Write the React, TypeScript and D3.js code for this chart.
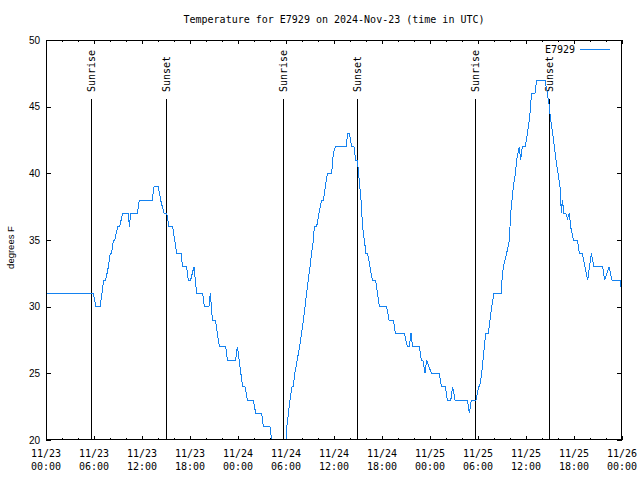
import React from "react";
import * as d3 from "d3";

// ---- data (hours since 2024-11-23 00:00 UTC, temperature in °F) ----
const hours = [
  0, 5.92, 6.25, 6.75, 7.0, 7.2, 7.46, 7.8, 8.04, 8.2, 8.42, 8.6, 8.96, 9.2, 9.58, 10.29, 10.42, 10.58,
  11.42, 11.67, 13.29, 13.5, 14.04, 14.33, 14.75, 15.08, 15.375, 15.83, 16.08, 16.33, 16.875, 17.08,
  17.58, 17.79, 18.08, 18.5, 18.83, 19.58, 19.79, 20.375, 20.54, 20.8, 21.17, 21.42, 21.67, 22.46,
  22.67, 23.71, 23.92, 24.04, 24.29, 24.58, 24.875, 25.17, 25.92, 26.21, 26.96, 27.17, 28.0, 28.2,
  28.4, 29.8, 30.0, 30.1, 30.3, 30.5, 30.75, 30.9, 31.1, 31.4, 31.7, 31.95, 32.17, 32.375, 32.58,
  32.79, 33.0, 33.2, 33.42, 33.54, 33.83, 34.125, 34.46, 34.67, 34.92, 35.17, 35.71, 35.83, 36.0,
  36.17, 37.5, 37.71, 37.92, 38.21, 38.5, 38.71, 38.92, 39.08, 39.375, 39.58, 40.0, 40.2, 40.79,
  41.2, 41.67, 42.58, 42.875, 43.42, 43.67, 44.79, 45.17, 45.4, 45.625, 45.83, 46.67, 46.92, 47.1,
  47.375, 47.58, 48.17, 49.17, 49.42, 49.92, 50.17, 50.6, 50.83, 51.125, 52.67, 52.92, 53.17, 53.75,
  54.08, 54.2, 54.46, 54.96, 55.29, 55.71, 56.0, 56.92, 57.0, 57.17, 57.58, 57.92, 58.08, 58.42,
  58.67, 58.83, 59.17, 59.33, 59.54, 59.92, 60.17, 60.42, 60.58, 60.67, 61.125, 61.33, 62.375,
  62.67, 62.92, 63.08, 63.33, 63.54, 63.75, 64.0, 64.25, 64.42, 64.54, 64.75, 64.96, 65.2, 65.42,
  65.58, 65.92, 66.42, 66.67, 67.04, 67.71, 68.17, 68.5, 69.58, 69.83, 70.375, 70.75, 71.75, 72.0,
];
const tempF = [
  31, 31, 30, 30, 31, 32, 32, 33, 34, 34, 35, 35, 36, 36, 37, 37, 36, 37,
  37, 38, 38, 39, 39, 38, 37, 37, 36, 36, 35, 34, 34, 33,
  33, 32, 32, 33, 31, 31, 30, 30, 31, 29, 29, 28, 27, 27,
  26, 26, 27, 26.5, 25.3, 24, 24, 23, 23, 22, 22, 21, 21, 20,
  19, 19, 20, 21, 22, 23, 24, 24, 25, 26, 27, 28, 29, 30, 31,
  32, 33, 34, 35, 36, 36, 37, 38, 38, 39, 40, 40, 41, 41.7,
  42, 42, 43, 43, 42, 42, 41, 41, 40, 38, 36, 34, 34, 32,
  32, 30, 30, 29, 29, 28, 28, 27, 27, 28, 27, 27, 26, 26,
  25, 26, 25, 25, 24, 24, 23, 23, 24, 23, 23, 22, 23, 23,
  24, 24, 25, 28, 28, 30, 31, 31, 32, 33, 34, 35, 37, 39,
  40, 41, 42, 41, 42, 42, 43, 44, 45, 46, 46, 47, 47,
  46, 45, 44, 43, 42, 41, 40, 39, 37, 38, 37, 37, 36.6, 37,
  36, 35, 35, 34, 34, 32, 34, 33, 33, 32, 33, 32, 32, 31,
];

const sunHours = [5.67, 15.04, 29.67, 38.9, 53.67, 62.92];
const sunLabels = ["Sunrise", "Sunset", "Sunrise", "Sunset", "Sunrise", "Sunset"];

const xMajorHours = d3.range(0, 73, 6);
const xMinorHours = d3.range(0, 73, 2).filter((h) => h % 6 !== 0);
const yTicks = [20, 25, 30, 35, 40, 45, 50];

const titleText = "Temperature for E7929 on 2024-Nov-23 (time in UTC)";
const yLabelText = "degrees F";
const seriesName = "E7929";
const BASE = Date.UTC(2024, 10, 23, 0, 0, 0);

const W = 640;
const H = 480;
const L = 46;
const R = 622;
const T = 40;
const B = 440;
const LINE = "#1482f0";
const MONO = "'DejaVu Sans Mono', 'Liberation Mono', monospace";
const SANS = "'Liberation Sans', Arial, sans-serif";

export default function App() {
  const x = d3.scaleLinear().domain([0, 72]).range([L, R]);
  const y = d3.scaleLinear().domain([20, 50]).range([B, T]);
  const fmtDate = d3.utcFormat("%m/%d");
  const fmtTime = d3.utcFormat("%H:%M");
  const pts = hours.map((h, i) => [h, tempF[i]] as [number, number]);
  const line = d3
    .line<[number, number]>()
    .x((d) => x(d[0]))
    .y((d) => y(d[1]));

  return (
    <svg
      width={W}
      height={H}
      style={{ position: "fixed", left: 0, top: 0, background: "#fff" }}
    >
      <defs>
        <clipPath id="plotclip">
          <rect x={L} y={T} width={R - L} height={B - T} />
        </clipPath>
      </defs>
      <rect width={W} height={H} fill="#fff" />

      {/* title */}
      <text x={(L + R) / 2} y={23} textAnchor="middle" fontFamily={MONO} fontSize={10} fill="#000">
        {titleText}
      </text>

      {/* y label */}
      <text
        transform={`translate(14,247.5) rotate(-90)`}
        textAnchor="middle"
        fontFamily={SANS}
        fontSize={9.5}
        fill="#000"
      >
        {yLabelText}
      </text>

      {/* y ticks */}
      {yTicks.map((v) => (
        <g key={"y" + v} shapeRendering="crispEdges">
          <line x1={L} x2={L + 5} y1={Math.round(y(v)) + 0.5} y2={Math.round(y(v)) + 0.5} stroke="#000" />
          <line x1={R - 5} x2={R} y1={Math.round(y(v)) + 0.5} y2={Math.round(y(v)) + 0.5} stroke="#000" />
          <text x={40} y={y(v)} dy="0.35em" textAnchor="end" fontFamily={SANS} fontSize={10} fill="#000">
            {v}
          </text>
        </g>
      ))}

      {/* x ticks */}
      {xMajorHours.map((h) => {
        const px = Math.round(x(h)) + 0.5;
        const dt = new Date(BASE + h * 3600e3);
        return (
          <g key={"x" + h}>
            <line x1={px} x2={px} y1={B} y2={B - 4} stroke="#000" shapeRendering="crispEdges" />
            <line x1={px} x2={px} y1={T} y2={T + 4} stroke="#000" shapeRendering="crispEdges" />
            <text x={x(h)} y={457} textAnchor="middle" fontFamily={MONO} fontSize={10} fill="#000">
              {fmtDate(dt)}
            </text>
            <text x={x(h)} y={470} textAnchor="middle" fontFamily={MONO} fontSize={10} fill="#000">
              {fmtTime(dt)}
            </text>
          </g>
        );
      })}
      {xMinorHours.map((h) => {
        const px = Math.round(x(h)) + 0.5;
        return (
          <g key={"m" + h} shapeRendering="crispEdges">
            <line x1={px} x2={px} y1={B} y2={B - 2} stroke="#000" />
            <line x1={px} x2={px} y1={T} y2={T + 2} stroke="#000" />
          </g>
        );
      })}

      {/* sunrise / sunset markers */}
      {sunHours.map((h, i) => {
        const px = Math.round(x(h)) + 0.5;
        return (
          <g key={"s" + i}>
            <line x1={px} x2={px} y1={99} y2={B} stroke="#000" shapeRendering="crispEdges" />
            <text
              transform={`translate(${x(h) + 4},92) rotate(-90)`}
              fontFamily={MONO}
              fontSize={10}
              fill="#000"
            >
              {sunLabels[i]}
            </text>
          </g>
        );
      })}

      {/* data */}
      <path
        d={line(pts) || ""}
        fill="none"
        stroke={LINE}
        strokeWidth={1}
        clipPath="url(#plotclip)"
        shapeRendering="crispEdges"
      />

      {/* legend */}
      <text x={575} y={53} textAnchor="end" fontFamily={MONO} fontSize={10} fill="#000">
        {seriesName}
      </text>
      <line x1={580} x2={610} y1={49.5} y2={49.5} stroke={LINE} shapeRendering="crispEdges" />

      {/* frame */}
      <rect
        x={L + 0.5}
        y={T + 0.5}
        width={R - L - 1}
        height={B - T - 1}
        fill="none"
        stroke="#000"
        shapeRendering="crispEdges"
      />
    </svg>
  );
}
